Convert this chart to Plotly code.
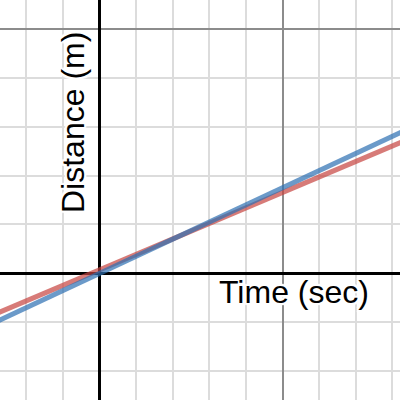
import plotly.graph_objects as go

# Data
time = [-3, 9]
distance_red = [-0.88, 2.92]
distance_blue = [-1.05, 3.15]

x_range = [-2.72, 8.21]
y_range = [-2.59, 5.59]

fig = go.Figure()
fig.add_trace(go.Scatter(x=time, y=distance_red, mode="lines",
                         line=dict(color="#c74440", width=5), opacity=0.7,
                         showlegend=False, hoverinfo="skip"))
fig.add_trace(go.Scatter(x=time, y=distance_blue, mode="lines",
                         line=dict(color="#2d70b3", width=5), opacity=0.7,
                         showlegend=False, hoverinfo="skip"))

axis_common = dict(
    showticklabels=False, ticks="",
    showgrid=True, gridcolor="#8c8c8c", gridwidth=2,
    zeroline=True, zerolinecolor="#000000", zerolinewidth=3,
    showline=False, layer="below traces",
    minor=dict(dtick=1, showgrid=True, gridcolor="#dcdcdc", gridwidth=2),
)
fig.update_xaxes(range=x_range, dtick=5, tick0=0, **axis_common)
fig.update_yaxes(range=y_range, dtick=5, tick0=0, **axis_common)

shadow = "2px 0 1px white, -2px 0 1px white, 0 2px 1px white, 0 -2px 1px white, 2px 2px 1px white, -2px -2px 1px white, 2px -2px 1px white, -2px 2px 1px white"
fig.add_annotation(text="Time (sec)", xref="paper", yref="paper",
                   x=293.5 / 400, y=1 - 292 / 400, xanchor="center", yanchor="middle",
                   showarrow=False,
                   font=dict(family="Liberation Sans, Arial", size=32, color="#000000", shadow=shadow))
fig.add_annotation(text="Distance (m)", xref="paper", yref="paper",
                   x=73 / 400, y=1 - 123 / 400, xanchor="center", yanchor="middle",
                   textangle=-90, showarrow=False,
                   font=dict(family="Liberation Sans, Arial", size=32, color="#000000", shadow=shadow))

fig.update_layout(width=400, height=400, margin=dict(l=0, r=0, t=0, b=0),
                  paper_bgcolor="white", plot_bgcolor="white")

fig.write_html("out.html", config={"displayModeBar": False},
               post_script="document.body.style.margin='0';")
